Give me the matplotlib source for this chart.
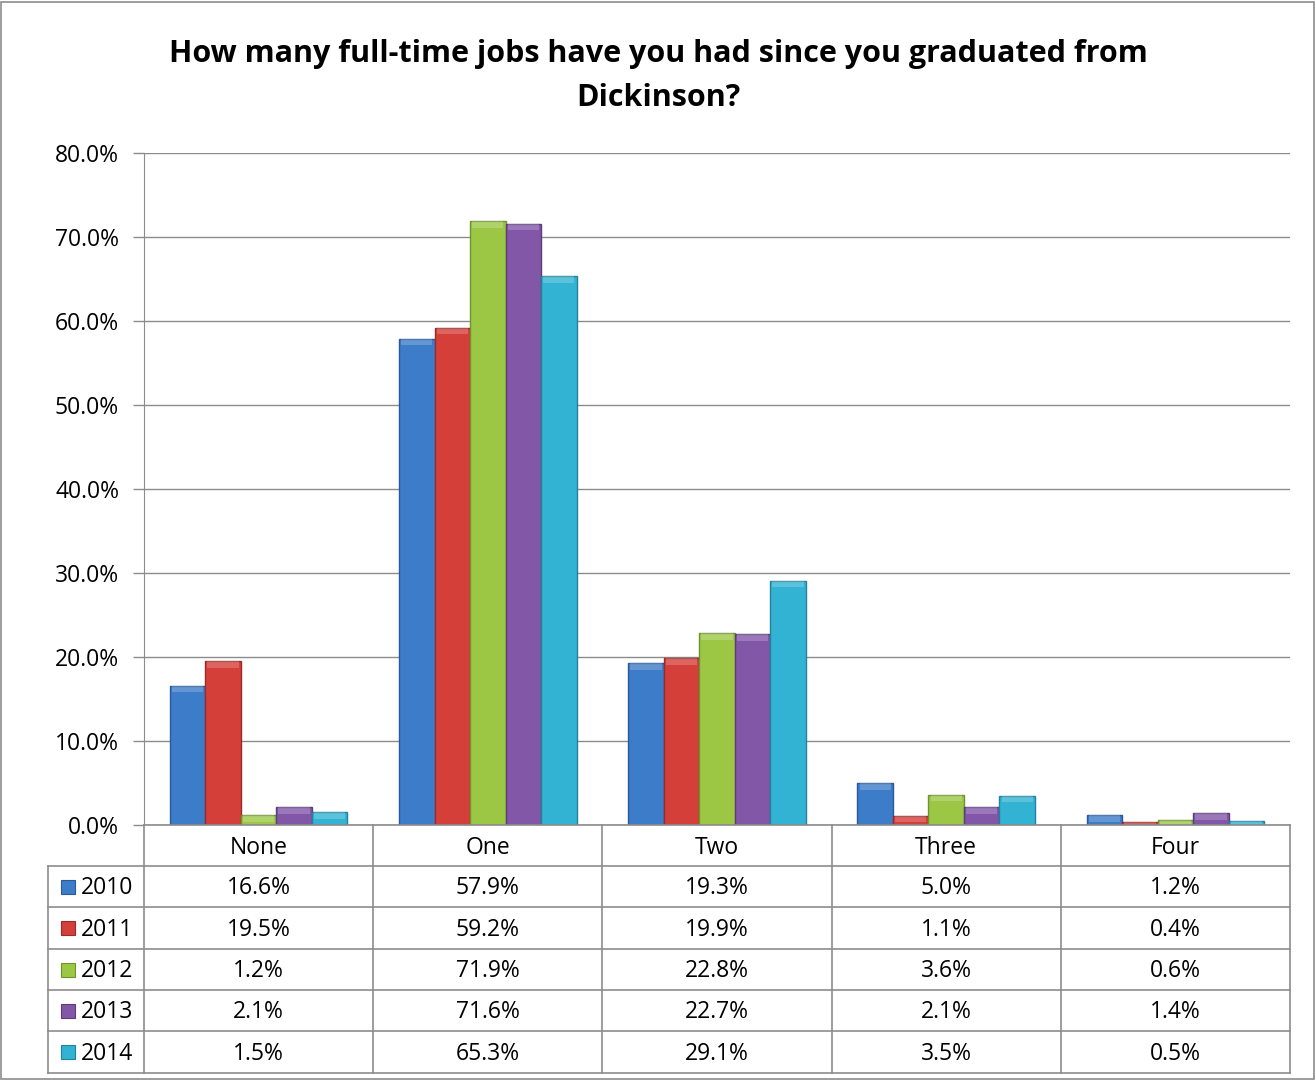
import matplotlib
matplotlib.use("Agg")
import matplotlib.pyplot as plt
import matplotlib.transforms as mtransforms
from matplotlib.lines import Line2D
from matplotlib.patches import Rectangle
import numpy as np

categories = ["None", "One", "Two", "Three", "Four"]
years = ["2010", "2011", "2012", "2013", "2014"]
v2010 = [16.6, 57.9, 19.3, 5.0, 1.2]
v2011 = [19.5, 59.2, 19.9, 1.1, 0.4]
v2012 = [1.2, 71.9, 22.8, 3.6, 0.6]
v2013 = [2.1, 71.6, 22.7, 2.1, 1.4]
v2014 = [1.5, 65.3, 29.1, 3.5, 0.5]
series = [v2010, v2011, v2012, v2013, v2014]
yticks = [0, 10, 20, 30, 40, 50, 60, 70, 80]
title = "How many full-time jobs have you had since you graduated from\nDickinson?"

colors = ["#3D7CC9", "#D43F3A", "#9CC745", "#8257A8", "#33B3D3"]
edges = ["#2A5A95", "#9A2B28", "#6F9230", "#5C3D7A", "#22829A"]

plt.rcParams['font.family'] = ['Open Sans', 'DejaVu Sans']

W, H = 1316, 1080
fig = plt.figure(figsize=(W / 100, H / 100), dpi=100)
fig.patch.set_facecolor("white")

# outer border
fig.add_artist(Rectangle((1 / W, 1 / H), (W - 3) / W, (H - 3) / H, transform=fig.transFigure,
                         fill=False, edgecolor="#8C8C8C", linewidth=1.2))

def fx(px):
    return px / W

def fy(py):
    return 1 - py / H

left, right, top, bottom = 144, 1290, 153, 825
ax = fig.add_axes([fx(left), fy(bottom), fx(right) - fx(left), (bottom - top) / H])
ax.set_xlim(-0.5, len(categories) - 0.5)
ax.set_ylim(0, 80)

n = len(series)
bw = 0.155
x = np.arange(len(categories))
for i, (vals, c, e) in enumerate(zip(series, colors, edges)):
    pos = x + (i - (n - 1) / 2) * bw
    ax.bar(pos, vals, width=bw, color=c, edgecolor=e, linewidth=1.0, zorder=3)
    # top highlight (bevel-like)
    ax.bar(pos, [min(0.8, v) for v in vals], bottom=[v - min(0.8, v) for v in vals],
           width=bw * 0.88, color="white", alpha=0.2, linewidth=0, zorder=4)

ax.set_yticks(yticks)
ax.set_yticklabels([f"{t:.1f}%" for t in yticks], fontsize=16.5)
ax.yaxis.grid(True, color="#8C8C8C", linewidth=1.0, zorder=0)
ax.set_axisbelow(True)
ax.set_xticks([])
for s in ["top", "right", "bottom"]:
    ax.spines[s].set_visible(False)
ax.spines["left"].set_color("#8C8C8C")
ax.tick_params(axis="y", length=8, color="#8C8C8C", pad=10, width=1.0)

fig.text(0.5, fy(76), title, ha="center", va="center", fontsize=22, fontweight="bold",
         linespacing=1.65)

# data table
trans = mtransforms.blended_transform_factory(ax.transData, fig.transFigure)
row_lines = [825, 866, 907, 949, 990, 1031, 1073]
lc = "#8C8C8C"
for yy in row_lines:
    x0 = left if yy == 825 else 48
    fig.add_artist(Line2D([fx(x0), fx(right)], [fy(yy), fy(yy)], transform=fig.transFigure,
                          color=lc, linewidth=1.2))
for k in range(len(categories) + 1):
    xb = k - 0.5
    fig.add_artist(Line2D([xb, xb], [fy(825), fy(1073)], transform=trans, color=lc, linewidth=1.2))
fig.add_artist(Line2D([fx(48), fx(48)], [fy(866), fy(1073)], transform=fig.transFigure,
                      color=lc, linewidth=1.2))

fs = 16.5
for j, cat in enumerate(categories):
    fig.text(j, fy((825 + 866) / 2 + 2), cat, transform=trans, ha="center", va="center", fontsize=fs)
for i, (yr, vals, c, e) in enumerate(zip(years, series, colors, edges)):
    yc = (row_lines[i + 1] + row_lines[i + 2]) / 2
    fig.add_artist(Rectangle((fx(61), fy(yc + 7)), 14 / W, 14 / H, transform=fig.transFigure,
                             facecolor=c, edgecolor=e, linewidth=0.8))
    fig.text(fx(81), fy(yc + 1.5), yr, ha="left", va="center", fontsize=fs)
    for j, v in enumerate(vals):
        fig.text(j, fy(yc + 1.5), f"{v:.1f}%", transform=trans, ha="center", va="center", fontsize=fs)

fig.savefig("out.png", dpi=100, facecolor="white")
